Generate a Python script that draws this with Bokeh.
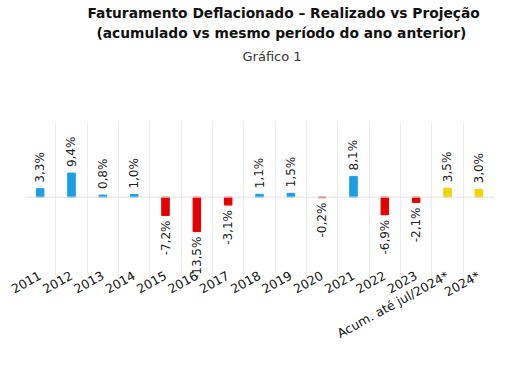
from bokeh.plotting import figure
from bokeh.models import Range1d, FixedTicker, Span, Title, Label
from bokeh.embed import file_html
from bokeh.resources import INLINE

categories = ["2011", "2012", "2013", "2014", "2015", "2016", "2017", "2018",
              "2019", "2020", "2021", "2022", "2023", "Acum. até jul/2024*", "2024*"]
values = [3.3, 9.4, 0.8, 1.0, -7.2, -13.5, -3.1, 1.1, 1.5, -0.2, 8.1, -6.9, -2.1, 3.5, 3.0]
projection = [False] * 13 + [True, True]

BLUE = "#1a9fe2"
RED = "#e30000"
YELLOW = "#f2d200"

xs = [i + 0.5 for i in range(len(categories))]
colors = [YELLOW if pr else (BLUE if v >= 0 else RED) for v, pr in zip(values, projection)]
labels = [("%.1f" % v).replace(".", ",") + "%" for v in values]

p = figure(width=497, height=350, output_backend="svg", toolbar_location=None,
           x_range=Range1d(0, len(categories)), y_range=Range1d(-33.4, 29.2),
           min_border_left=24, min_border_right=3, min_border_top=0, min_border_bottom=0)
p.outline_line_color = None
p.background_fill_color = "white"

p.vbar(x=xs, top=values, width=0.24, color=colors)

# value labels
for x, v, t in zip(xs, values, labels):
    p.add_layout(Label(x=x, y=v, text=t, angle=1.5708,
                       y_offset=6 if v >= 0 else -5,
                       text_align="left" if v >= 0 else "right",
                       text_baseline="middle", text_font="DejaVu Sans",
                       text_font_size="12px", text_color="#222222"))

p.add_layout(Span(location=0, dimension="width", line_color="#e2e2e2", line_width=1))

p.yaxis.visible = False
p.ygrid.grid_line_color = None
p.xgrid.ticker = FixedTicker(ticks=list(range(len(categories) + 1)))
p.xgrid.grid_line_color = "#ededed"

ax = p.xaxis[0]
ax.ticker = FixedTicker(ticks=xs)
ax.major_label_overrides = {x: c for x, c in zip(xs, categories)}
ax.major_label_orientation = 0.5
ax.axis_line_color = None
ax.major_tick_line_color = None
ax.minor_tick_line_color = None
ax.major_tick_out = 0
ax.major_tick_in = 0
ax.minor_tick_out = 0
ax.major_label_standoff = -8
ax.major_label_text_font = "DejaVu Sans"
ax.major_label_text_font_size = "12.5px"
ax.major_label_text_color = "#111111"

# spacer between the subtitle and the plot area
p.add_layout(Title(text=" ", standoff=40, text_font_size="10px"), "above")
p.add_layout(Title(text="Gráfico 1", align="left", offset=218, standoff=12,
                   text_font="DejaVu Sans", text_font_size="13px",
                   text_font_style="normal", text_color="#333333"), "above")
p.add_layout(Title(text="(acumulado vs mesmo período do ano anterior)", align="left",
                   offset=72, standoff=0, text_font="DejaVu Sans", text_font_size="13.8px",
                   text_font_style="bold", text_color="#111111"), "above")
p.add_layout(Title(text="Faturamento Deflacionado – Realizado vs Projeção", align="left",
                   offset=63, standoff=4, text_font="DejaVu Sans", text_font_size="13.8px",
                   text_font_style="bold", text_color="#111111"), "above")

open("out.html", "w").write(file_html(p, INLINE))
